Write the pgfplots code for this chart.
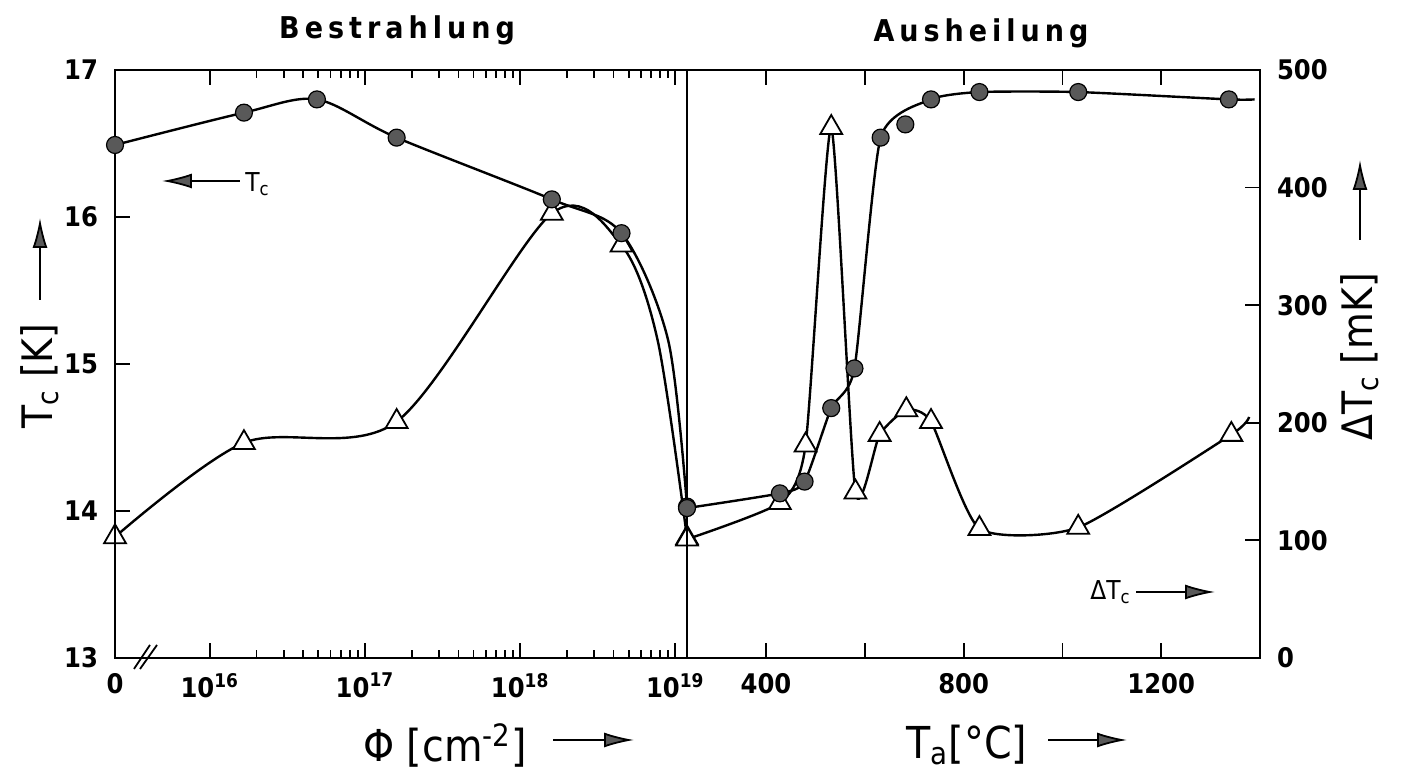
\documentclass[border=0pt]{standalone}
\usepackage{pgfplots}
\pgfplotsset{compat=1.18}
\usepackage{fontspec}
\setmainfont{DejaVu Sans Condensed}
\usetikzlibrary{arrows.meta}

\definecolor{dotgray}{gray}{0.35}

\pgfplotsset{
  panel/.style={scale only axis, width=286pt, height=294pt, clip=false,
    axis line style={line width=0.9pt},
    tick align=inside,
    every tick/.style={draw=black, line width=0.9pt},
    major tick length=7.5pt, minor tick length=4pt,
    tick label style={font=\fontsize{13.5}{15}\selectfont\bfseries},
    /pgf/number format/assume math mode=true},
  tcline/.style={black, line width=1.2pt, smooth, tension=0.35, no markers},
  tc/.style={only marks, mark=*, mark size=4.25pt,
    mark options={fill=dotgray, draw=black, line width=0.6pt}},
  dtc/.style={only marks, mark=triangle*, mark size=6.3pt,
    mark options={fill=white, draw=black, line width=0.9pt}},
}
\tikzset{arr/.style={line width=0.9pt, -{Latex[length=15pt,width=7.5pt,fill=black!65]}}}

\begin{document}
\begin{tikzpicture}
\useasboundingbox (-57.5pt,-59pt) rectangle (645pt,329pt);

% Bestrahlung: Delta Tc on the right-hand scale (hidden axis)
\begin{axis}[panel, at={(0pt,0pt)}, anchor=south west, hide axis,
  xmode=log, xmin=2.45e15, xmax=1.19e19, ymin=0, ymax=500]
\addplot[tcline, tension=0.5] coordinates {(2.45e15,103)(1.66e16,183)(1.6e17,201)(1.6e18,378)(4.5e18,351)(7.7e18,270)(1.19e19,102)};
\addplot[dtc] coordinates {(2.45e15,103)(1.66e16,183)(1.6e17,201)(1.6e18,378)(4.5e18,351)(1.19e19,102)};
\end{axis}

% Bestrahlung: Tc
\begin{axis}[panel, at={(0pt,0pt)}, anchor=south west,
  xmode=log, xmin=2.45e15, xmax=1.19e19, ymin=13, ymax=17,
  xtick={1e16,1e17,1e18,1e19},
  xticklabels={10\textsuperscript{16},10\textsuperscript{17},10\textsuperscript{18},10\textsuperscript{19}},
  extra x ticks={2.45e15}, extra x tick labels={0},
  extra x tick style={major tick length=0pt},
  minor xtick={2e16,3e16,4e16,5e16,6e16,7e16,8e16,9e16,2e17,3e17,4e17,5e17,6e17,7e17,8e17,9e17,2e18,3e18,4e18,5e18,6e18,7e18,8e18,9e18},
  ytick={13,14,15,16,17}, ytick pos=left,
  xticklabel style={yshift=-4pt}, yticklabel style={xshift=-5pt}]
\addplot[tcline, tension=0.5] coordinates {(2.45e15,16.49)(1.66e16,16.71)(4.9e16,16.80)(1.6e17,16.54)(1.6e18,16.12)(4.5e18,15.89)(9.0e18,15.16)(1.19e19,14.03)};
\addplot[tc] coordinates {(2.45e15,16.49)(1.66e16,16.71)(4.9e16,16.80)(1.6e17,16.54)(1.6e18,16.12)(4.5e18,15.89)(1.19e19,14.03)};
\end{axis}

% Ausheilung: Delta Tc with its scale on the right
\begin{axis}[panel, at={(286pt,0pt)}, anchor=south west, width=286.5pt,
  xmin=240, xmax=1400, ymin=0, ymax=500,
  xtick=\empty, ytick={0,100,200,300,400,500}, ytick pos=right,
  yticklabel style={anchor=west, xshift=5pt}]
\addplot[tcline] coordinates {(240,101)(428,132)(480,181)(532,451)(581,141)(630,190)(684,211)(734,201)(832,110)(1032,111)(1342,190)(1378,205)};
\addplot[dtc] coordinates {(240,101)(428,132)(480,181)(532,451)(581,141)(630,190)(684,211)(734,201)(832,110)(1032,111)(1342,190)};
\end{axis}

% Ausheilung: Tc
\begin{axis}[panel, at={(286pt,0pt)}, anchor=south west, width=286.5pt,
  xmin=240, xmax=1400, ymin=13, ymax=17,
  xtick={400,600,800,1000,1200}, xticklabels={400,,800,,1200},
  ytick=\empty, xticklabel style={yshift=-4pt}]
\addplot[tcline] coordinates {(240,14.02)(428,14.12)(478,14.20)(532,14.70)(579,14.97)(632,16.54)(734,16.80)(832,16.85)(1032,16.85)(1337,16.80)(1389,16.80)};
\addplot[tc] coordinates {(240,14.02)(428,14.12)(478,14.20)(532,14.70)(579,14.97)(632,16.54)(682,16.63)(734,16.80)(832,16.85)(1032,16.85)(1337,16.80)};
\end{axis}

% axis break on the flux axis
\draw[line width=0.9pt] (9.5pt,-5.5pt) -- (17.5pt,6.5pt);
\draw[line width=0.9pt] (12.5pt,-5.5pt) -- (21pt,6.5pt);

% titles
\node[font=\fontsize{15}{18}\selectfont\bfseries] at (141pt,314pt) {B\,e\,s\,t\,r\,a\,h\,l\,u\,n\,g};
\node[font=\fontsize{15}{18}\selectfont\bfseries] at (433pt,312.5pt) {A\,u\,s\,h\,e\,i\,l\,u\,n\,g};

% axis labels
\node[font=\fontsize{22}{24}\selectfont] at (165pt,-43.5pt) {Φ [cm\textsuperscript{-2}]};
\draw[arr] (219pt,-41pt) -- (259.5pt,-41pt);
\node[font=\fontsize{22}{24}\selectfont] at (426pt,-43.5pt) {T\textsubscript{a}[°C]};
\draw[arr] (466.5pt,-41pt) -- (506pt,-41pt);
\node[rotate=90, font=\fontsize{21}{24}\selectfont] at (-37.5pt,141pt) {T\textsubscript{c} [K]};
\draw[arr] (-37.5pt,179pt) -- (-37.5pt,220pt);
\node[rotate=90, font=\fontsize{21}{24}\selectfont] at (622.5pt,150.5pt) {ΔT\textsubscript{c} [mK]};
\draw[arr] (622.5pt,209pt) -- (622.5pt,249pt);

% which curve belongs to which scale
\draw[arr] (62.5pt,238.5pt) -- (23.5pt,238.5pt);
\node[anchor=west, font=\fontsize{13}{15}\selectfont, inner sep=1pt] at (64pt,237pt) {T\textsubscript{c}};
\node[anchor=east, font=\fontsize{13}{15}\selectfont, inner sep=1pt] at (509pt,33pt) {ΔT\textsubscript{c}};
\draw[arr] (510.5pt,33pt) -- (550pt,33pt);
\end{tikzpicture}
\end{document}
